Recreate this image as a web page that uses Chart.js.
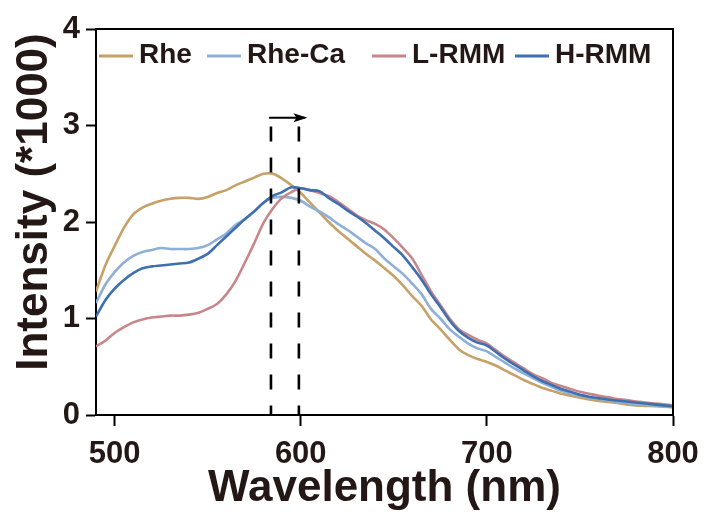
<!DOCTYPE html>
<html>
<head>
<meta charset="utf-8">
<title>Intensity vs Wavelength</title>
<script src="https://cdn.jsdelivr.net/npm/chart.js@4.4.1/dist/chart.umd.min.js"></script>
<style>
  html, body { margin: 0; padding: 0; background: #fff; }
  #wrap { width: 712px; height: 522px; }
</style>
</head>
<body>
<div id="wrap"><canvas id="spectra" width="712" height="522"></canvas></div>
<script>
/* ---- Emission spectra (intensity in units of 1000) ---- */
const WAVELENGTH = [490, 495, 500, 505, 510, 515, 520, 525, 530, 535, 540, 545, 550, 555, 560, 565, 570, 575, 580, 585,
  590, 595, 600, 605, 610, 615, 620, 625, 630, 635, 640, 645, 650, 655, 660, 665, 670, 675, 680, 685,
  690, 695, 700, 705, 710, 715, 720, 725, 730, 735, 740, 745, 750, 755, 760, 765, 770, 775, 780, 785,
  790, 795, 800];

const RHE = [1.28, 1.55, 1.75, 1.94, 2.08, 2.15, 2.19, 2.22, 2.24, 2.25, 2.25, 2.24, 2.26, 2.30, 2.33, 2.38, 2.42, 2.46, 2.50, 2.50,
  2.45, 2.38, 2.30, 2.20, 2.10, 2.00, 1.91, 1.83, 1.75, 1.67, 1.60, 1.52, 1.44, 1.34, 1.23, 1.13, 0.99, 0.89, 0.78, 0.68,
  0.62, 0.58, 0.55, 0.51, 0.46, 0.41, 0.36, 0.32, 0.28, 0.25, 0.22, 0.20, 0.18, 0.16, 0.145, 0.135, 0.125, 0.11, 0.10, 0.095,
  0.09, 0.085, 0.08];

const RHE_CA = [1.16, 1.35, 1.48, 1.58, 1.65, 1.69, 1.71, 1.73, 1.72, 1.72, 1.72, 1.73, 1.76, 1.82, 1.88, 1.97, 2.03, 2.11, 2.20, 2.25,
  2.26, 2.25, 2.22, 2.16, 2.11, 2.05, 1.98, 1.92, 1.85, 1.78, 1.72, 1.62, 1.54, 1.46, 1.36, 1.25, 1.10, 1.00, 0.89, 0.81,
  0.74, 0.69, 0.66, 0.60, 0.54, 0.48, 0.43, 0.38, 0.33, 0.29, 0.25, 0.22, 0.20, 0.18, 0.165, 0.15, 0.135, 0.125, 0.115, 0.105,
  0.10, 0.09, 0.08];

const L_RMM = [0.71, 0.77, 0.85, 0.91, 0.96, 0.99, 1.01, 1.02, 1.03, 1.03, 1.04, 1.06, 1.10, 1.15, 1.25, 1.39, 1.58, 1.78, 1.99, 2.14,
  2.25, 2.31, 2.35, 2.33, 2.30, 2.27, 2.21, 2.14, 2.07, 2.02, 1.98, 1.92, 1.83, 1.73, 1.62, 1.45, 1.28, 1.14, 1.00, 0.89,
  0.83, 0.78, 0.74, 0.67, 0.60, 0.54, 0.48, 0.42, 0.38, 0.33, 0.30, 0.27, 0.24, 0.22, 0.20, 0.185, 0.165, 0.155, 0.14, 0.13,
  0.12, 0.11, 0.10];

const H_RMM = [1.02, 1.19, 1.31, 1.40, 1.47, 1.52, 1.54, 1.55, 1.56, 1.57, 1.58, 1.62, 1.67, 1.76, 1.85, 1.94, 2.03, 2.11, 2.20, 2.27,
  2.31, 2.36, 2.35, 2.33, 2.32, 2.25, 2.19, 2.12, 2.06, 1.99, 1.91, 1.83, 1.74, 1.65, 1.53, 1.40, 1.25, 1.12, 0.98, 0.87,
  0.80, 0.75, 0.72, 0.65, 0.58, 0.52, 0.46, 0.40, 0.35, 0.31, 0.27, 0.24, 0.21, 0.19, 0.175, 0.16, 0.15, 0.14, 0.13, 0.12,
  0.11, 0.10, 0.09];

const SERIES_LABELS = ['Rhe', 'Rhe-Ca', 'L-RMM', 'H-RMM'];
const SERIES_COLORS = ['#c6a168', '#8eafd6', '#c8868b', '#3d6fb1'];

/* ---- Peak shift markers ---- */
const PEAK_MARKS = [584, 599];
const PEAK_MARK_TOP = 2.99;
const ARROW_X = [583, 602];
const ARROW_Y = 3.08;

/* ---- Axis ticks ---- */
const X_TICKS = [500, 600, 700, 800];
const Y_TICKS = [0, 1, 2, 3, 4];

const INK = '#231815';
const FONT = "'Liberation Sans', Arial, Helvetica, sans-serif";

const toPoints = (ys) => ys.map((y, i) => ({ x: WAVELENGTH[i], y }));

const series = [RHE, RHE_CA, L_RMM, H_RMM].map((ys, i) => ({
  label: SERIES_LABELS[i],
  data: toPoints(ys),
  borderColor: SERIES_COLORS[i],
  borderWidth: 2.6,
  pointRadius: 0,
  tension: 0.3,
  order: i === 3 ? 1 : 4 - i
}));

const markers = PEAK_MARKS.map(x => ({
  label: '',
  data: [{ x, y: PEAK_MARK_TOP }, { x, y: 0 }],
  borderColor: '#000',
  borderWidth: 2.6,
  borderDash: [15, 16],
  pointRadius: 0,
  order: 0
}));

const arrow = {
  label: '',
  data: ARROW_X.map(x => ({ x, y: ARROW_Y })),
  borderColor: '#000',
  borderWidth: 2,
  pointRadius: 0,
  order: 0
};

/* ---- Frame round the plot area ---- */
const frame = {
  id: 'frame',
  afterDatasetsDraw(chart) {
    const { ctx, chartArea: a } = chart;
    ctx.save();
    ctx.strokeStyle = '#000';
    ctx.lineWidth = 2;
    ctx.beginPath();
    ctx.moveTo(a.left, a.top);
    ctx.lineTo(a.right, a.top);
    ctx.lineTo(a.right, a.bottom);
    ctx.stroke();
    ctx.restore();
  }
};

/* ---- Arrow head at the end of the shift arrow ---- */
const arrowHead = {
  id: 'arrowHead',
  afterDatasetsDraw(chart) {
    const { ctx, scales } = chart;
    const tipX = scales.x.getPixelForValue(ARROW_X[1]) + 3;
    const y = scales.y.getPixelForValue(ARROW_Y);
    ctx.save();
    ctx.fillStyle = '#000';
    ctx.beginPath();
    ctx.moveTo(tipX, y);
    ctx.lineTo(tipX - 14, y - 4.5);
    ctx.lineTo(tipX - 11, y);
    ctx.lineTo(tipX - 14, y + 4.5);
    ctx.closePath();
    ctx.fill();
    ctx.restore();
  }
};

/* ---- Legend inside the plot, one row ---- */
const LEGEND_X = [99, 207, 372, 515];
const inlineLegend = {
  id: 'inlineLegend',
  afterDraw(chart) {
    const { ctx } = chart;
    const y = 56;
    ctx.save();
    ctx.font = `bold 28px ${FONT}`;
    ctx.textBaseline = 'middle';
    ctx.textAlign = 'left';
    SERIES_LABELS.forEach((label, i) => {
      const x0 = LEGEND_X[i];
      ctx.strokeStyle = SERIES_COLORS[i];
      ctx.lineWidth = 3;
      ctx.beginPath();
      ctx.moveTo(x0, y);
      ctx.lineTo(x0 + 34, y);
      ctx.stroke();
      ctx.fillStyle = INK;
      ctx.fillText(label, x0 + 40, y - 1);
    });
    ctx.restore();
  }
};

/* ---- Rotated y title ---- */
const yTitle = {
  id: 'yTitle',
  afterDraw(chart) {
    const { ctx } = chart;
    ctx.save();
    ctx.translate(35, 202);
    ctx.rotate(-Math.PI / 2);
    ctx.font = `bold 44px ${FONT}`;
    ctx.fillStyle = INK;
    ctx.textAlign = 'center';
    ctx.textBaseline = 'middle';
    ctx.fillText('Intensity (*1000)', 0, 0);
    ctx.restore();
  }
};

new Chart(document.getElementById('spectra'), {
  type: 'line',
  data: { datasets: [...series, ...markers, arrow] },
  options: {
    responsive: false,
    animation: false,
    layout: { padding: { left: 0, top: 29, right: 39, bottom: 0 } },
    plugins: { legend: { display: false }, tooltip: { enabled: false } },
    scales: {
      x: {
        type: 'linear',
        min: 490,
        max: 800,
        afterFit: (s) => { s.height = 107; },
        afterBuildTicks: (s) => { s.ticks = X_TICKS.map(v => ({ value: v })); },
        border: { display: true, color: '#000', width: 2 },
        grid: { drawOnChartArea: false, drawTicks: true, tickLength: 11, tickColor: '#000', tickWidth: 2 },
        ticks: { color: INK, padding: 10, font: { family: FONT, size: 31, weight: 'bold' } },
        title: {
          display: true,
          text: 'Wavelength (nm)',
          color: INK,
          padding: { top: 0, bottom: 7 },
          font: { family: FONT, size: 44, weight: 'bold' }
        }
      },
      y: {
        min: 0,
        max: 4,
        afterFit: (s) => { s.width = 96; },
        afterBuildTicks: (s) => { s.ticks = Y_TICKS.map(v => ({ value: v })); },
        border: { display: true, color: '#000', width: 2 },
        grid: { drawOnChartArea: false, drawTicks: true, tickLength: 10, tickColor: '#000', tickWidth: 2 },
        ticks: { color: INK, padding: 6, font: { family: FONT, size: 31, weight: 'bold' } }
      }
    }
  },
  plugins: [frame, arrowHead, inlineLegend, yTitle]
});
</script>
</body>
</html>
